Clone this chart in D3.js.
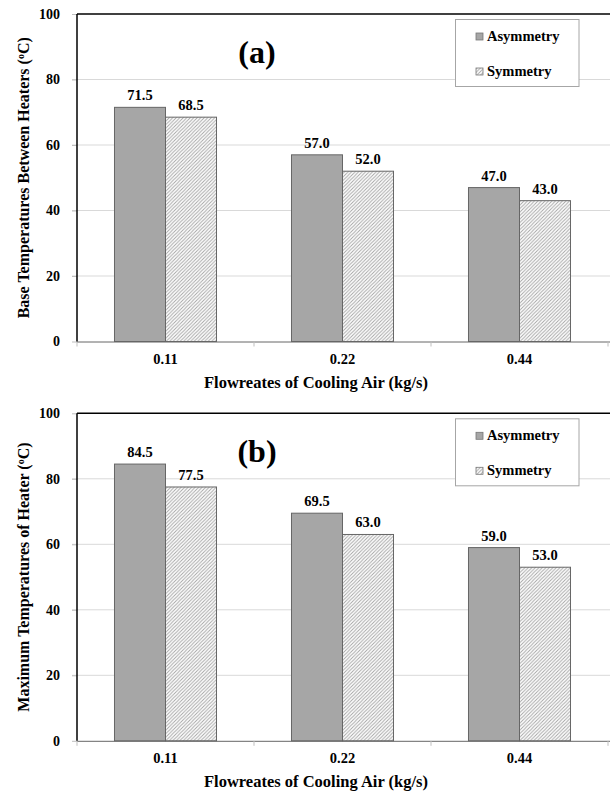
<!DOCTYPE html>
<html>
<head>
<meta charset="utf-8">
<script src="https://cdn.jsdelivr.net/npm/d3@7/dist/d3.min.js"></script>
<style>
  html, body { margin: 0; padding: 0; background: #fff; }
  svg { display: block; }
</style>
</head>
<body>
<svg id="chart" width="610" height="794"></svg>
<script>
const FONT = "'Liberation Serif', 'Times New Roman', Tinos, 'DejaVu Serif', serif";
// ---- data ----
const categories = ["0.11", "0.22", "0.44"];
const seriesNames = ["Asymmetry", "Symmetry"];
const baseAsym = [71.5, 57.0, 47.0];
const baseSym = [68.5, 52.0, 43.0];
const maxAsym = [84.5, 69.5, 59.0];
const maxSym = [77.5, 63.0, 53.0];
const yTicks = [0, 20, 40, 60, 80, 100];
const xTitle = "Flowreates of Cooling Air (kg/s)";
const panels = [
  { tag: "(a)", title: "Base Temperatures Between Heaters (", asym: baseAsym, sym: baseSym, top: 14 },
  { tag: "(b)", title: "Maximum Temperatures of Heater (", asym: maxAsym, sym: maxSym, top: 413.3 }
];

const svg = d3.select("#chart");
const defs = svg.append("defs");
const pat = defs.append("pattern")
  .attr("id", "hatch").attr("patternUnits", "userSpaceOnUse")
  .attr("width", 3.5).attr("height", 3.5);
pat.append("rect").attr("width", 3.5).attr("height", 3.5).attr("fill", "#fff");
pat.append("path").attr("d", "M-1,1 L1,-1 M0,3.5 L3.5,0 M2.5,4.5 L4.5,2.5")
  .attr("stroke", "#a3a3a3").attr("stroke-width", 0.9);

const left = 77, right = 608, plotH = 327.5;
const fills = { Asymmetry: "#a6a6a6", Symmetry: "url(#hatch)" };

function txt(sel, size) {
  return sel.attr("font-family", FONT).attr("font-weight", "bold").attr("fill", "#000")
    .style("font-family", FONT).style("font-weight", "bold").style("font-size", size + "px");
}

panels.forEach(p => {
  const g = svg.append("g");
  const y = d3.scaleLinear().domain([0, 100]).range([p.top + plotH, p.top]);
  const x = d3.scaleBand().domain(categories).range([left, right]).paddingInner(0).paddingOuter(0);
  const xs = d3.scaleBand().domain(seriesNames).range([0, x.bandwidth()]).paddingInner(0).paddingOuter(0.735);

  // gridlines
  g.append("g").selectAll("line").data(yTicks.filter(t => t > 0 && t < 100)).join("line")
    .attr("x1", left - 5).attr("x2", 610).attr("y1", d => y(d)).attr("y2", d => y(d))
    .attr("stroke", "#d9d9d9").attr("stroke-width", 1);

  // y axis
  const ya = g.append("g").attr("transform", `translate(${left},0)`)
    .call(d3.axisLeft(y).tickValues(yTicks).tickSize(5).tickPadding(12).tickFormat(d3.format("d")));
  ya.attr("font-family", FONT);
  ya.select(".domain").remove();
  ya.selectAll(".tick line").attr("stroke", "#bfbfbf");
  txt(ya.selectAll(".tick text"), 14);

  // bars
  const rows = categories.map((c, i) => ({ c, vals: [{ s: "Asymmetry", v: p.asym[i] }, { s: "Symmetry", v: p.sym[i] }] }));
  const cg = g.append("g").selectAll("g").data(rows).join("g")
    .attr("transform", d => `translate(${x(d.c)},0)`);
  cg.selectAll("rect").data(d => d.vals).join("rect")
    .attr("x", d => xs(d.s)).attr("width", xs.bandwidth())
    .attr("y", d => y(d.v)).attr("height", d => y(0) - y(d.v))
    .attr("fill", d => fills[d.s]).attr("stroke", "#666").attr("stroke-width", 1);
  txt(cg.selectAll("text").data(d => d.vals).join("text"), 14.5)
    .attr("x", d => xs(d.s) + xs.bandwidth() / 2).attr("y", d => y(d.v) - 7)
    .attr("text-anchor", "middle")
    .text(d => d.v.toFixed(1));

  // x axis
  const xa = g.append("g").attr("transform", `translate(0,${y(0)})`)
    .call(d3.axisBottom(x).tickSize(0).tickPadding(12));
  xa.attr("font-family", FONT);
  xa.select(".domain").attr("stroke", "#666").attr("d", `M${left},0.5H610`);
  txt(xa.selectAll(".tick text"), 14.5);
  g.append("g").selectAll("line").data(categories.map(c => x(c)).concat([right])).join("line")
    .attr("x1", d => d).attr("x2", d => d).attr("y1", y(0)).attr("y2", y(0) + 5)
    .attr("stroke", "#bfbfbf");

  // frame: top and left
  g.append("line").attr("x1", left).attr("x2", 610).attr("y1", p.top).attr("y2", p.top)
    .attr("stroke", "#000").attr("stroke-width", 1.5);
  g.append("line").attr("x1", left).attr("x2", left).attr("y1", p.top).attr("y2", y(0))
    .attr("stroke", "#000").attr("stroke-width", 1.5);

  // x title
  txt(g.append("text"), 16.5).attr("x", 316).attr("y", y(0) + 46)
    .attr("text-anchor", "middle").text(xTitle);

  // y title
  const yt = txt(g.append("text"), 16)
    .attr("transform", `translate(29,${p.top + plotH / 2}) rotate(-90)`)
    .attr("text-anchor", "middle");
  yt.append("tspan").text(p.title);
  yt.append("tspan").attr("dy", -5).style("font-size", "10px").text("o");
  yt.append("tspan").attr("dy", 5).text("C)");

  // panel tag
  txt(g.append("text"), 32).attr("x", 257).attr("y", p.top + 48.5)
    .attr("text-anchor", "middle").text(p.tag);

  // legend
  const lg = g.append("g").attr("transform", `translate(455.5,${p.top + 5.5})`);
  lg.append("rect").attr("width", 123.5).attr("height", 67)
    .attr("fill", "#fff").attr("stroke", "#a6a6a6").attr("stroke-width", 1);
  seriesNames.forEach((s, i) => {
    lg.append("rect").attr("x", 20.5).attr("y", 13.5 + i * 35).attr("width", 7).attr("height", 7)
      .attr("fill", fills[s]).attr("stroke", "#777").attr("stroke-width", 0.8);
    txt(lg.append("text"), 14.5).attr("x", 31.5).attr("y", 21.5 + i * 35).text(s);
  });
});
</script>
</body>
</html>
